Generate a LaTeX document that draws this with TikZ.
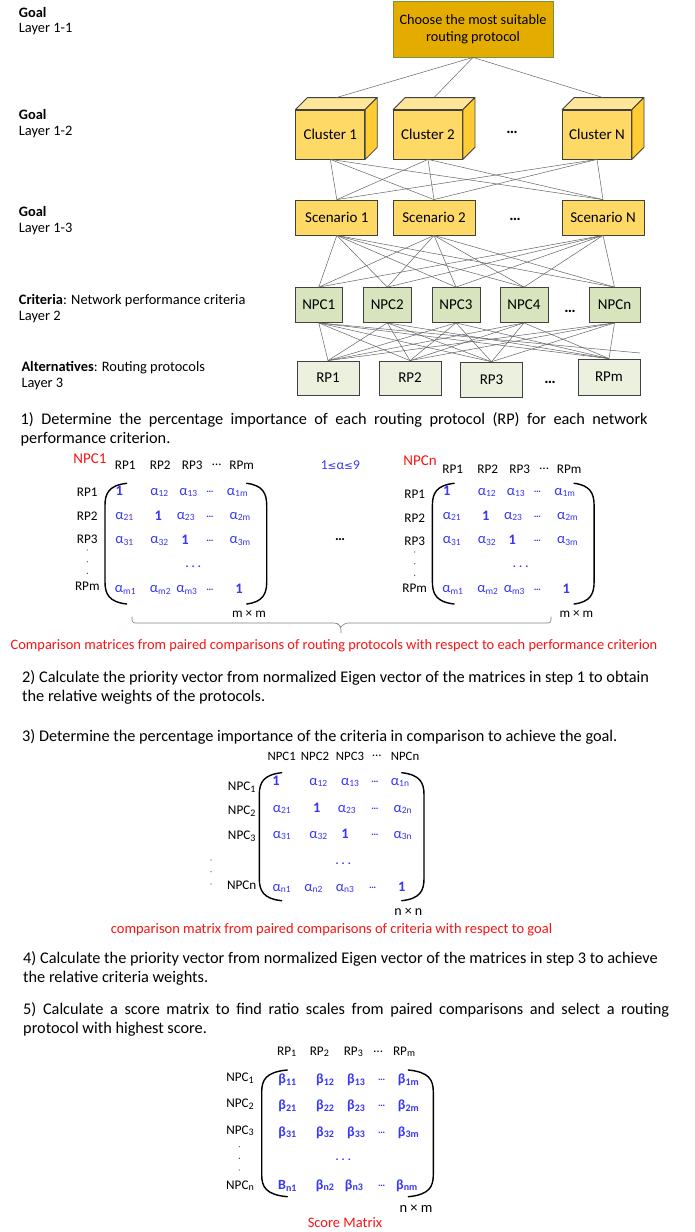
\documentclass[tikz,border=0pt]{standalone}
\usepackage{fontspec}
\setmainfont{Carlito}
\newfontfamily\djv{DejaVu Sans}
\usetikzlibrary{calc}
\definecolor{goalfill}{RGB}{229,172,0}
\definecolor{goalline}{RGB}{119,147,60}
\definecolor{cubefront}{RGB}{255,217,102}
\definecolor{cubetop}{RGB}{255,230,153}
\definecolor{cubeside}{RGB}{255,204,51}
\definecolor{npcfill}{RGB}{215,228,189}
\definecolor{rpfill}{RGB}{235,241,222}
\definecolor{boxline}{RGB}{64,64,64}
\definecolor{entblue}{RGB}{55,55,245}
\definecolor{capred}{RGB}{250,20,20}
\definecolor{linkgray}{RGB}{100,100,100}
\newcommand\myfs[1]{\fontsize{#1}{#1}\selectfont}
\newcommand\alx[1]{α\raisebox{-1.5pt}{\myfs{9.5}#1}}
\newcommand\bex[1]{β\raisebox{-1.5pt}{\myfs{10}#1}}
\newcommand\sbx[1]{\raisebox{-1.5pt}{\myfs{10}#1}}
\newcommand\mylpar[4]{\draw[paren] (#2,#3) .. controls ({#1+4},{#3+2}) and (#1,{#3+10}) .. (#1,{#3+22}) -- (#1,{#4-22}) .. controls (#1,{#4-10}) and ({#1+4},{#4-2}) .. (#2,#4);}
\newcommand\myrpar[4]{\draw[paren] (#1,#3) .. controls ({#2-4},{#3+2}) and (#2,{#3+10}) .. (#2,{#3+22}) -- (#2,{#4-22}) .. controls (#2,{#4-10}) and ({#2-4},{#4-2}) .. (#1,#4);}
\newcommand\mycube[1]{%
  \draw[boxline, fill=cubetop, line width=0.8pt, line join=round] (#1.north west) -- ++(12,-12) -- ($(#1.north east)+(12,-12)$) -- (#1.north east) -- cycle;
  \draw[boxline, fill=cubeside, line width=0.8pt, line join=round] (#1.north east) -- ++(12,-12) -- ($(#1.south east)+(12,-12)$) -- (#1.south east) -- cycle;
  \coordinate (top#1) at ($(#1.north)+(6,-12)$);}
% matrix of step 1 (shifted copies)
\newcommand\matA[3]{%
  \foreach \t/\x [count=\i] in {RP1/125.3, RP2/160.3, RP3/192.3, …/216.7, RPm/241.7}
    \node[mlab] (#1h\i) at (\x,{465+#2}) {\t};
  \foreach \t/\y [count=\i] in {RP1/492.3, RP2/516, RP3/539.3, RPm/586.7}
    \node[mlab] (#1r\i) at (87.3,{\y+#3}) {\t};
  \foreach \y in {550,561.7,573.3} \fill[boxline] (87.3,{\y+#3}) circle (0.65);
  \foreach \x/\y/\c [count=\i] in {119.3/490.5/1, 158.3/515.5/1, 185/539.5/1, 239/588.5/1}
    \node[one] (#1o\i) at (\x,\y) {\c};
  \foreach \x/\y/\c [count=\i] in {159.3/492.3/12, 188.3/492.3/13, 237.3/492.3/1m,
      124.3/516.7/21, 185.7/516.7/23, 240/516.7/2m,
      124.3/541/31, 159.3/541/32, 240/541/3m,
      125.3/590/m1, 160.3/590/m2, 186.7/590/m3}
    \node[ent] (#1a\i) at (\x,\y) {\alx{\c}};
  \foreach \y [count=\i] in {492.3,516.7,541,590}
    \node[edots] (#1e\i) at (210,\y) {…};
  \node[ent] (#1v) at (193.3,566.7) {.\hspace{2.5pt}.\hspace{2.5pt}.};
  \mylpar{105}{126.7}{483.3}{604}
  \myrpar{246.7}{266.7}{483.3}{604}
  \node[mlab] (#1sz) at (249,614) {m × m};
}
\tikzset{
  hbox/.style={draw=boxline, line width=0.8pt, inner sep=0, align=center, font=\myfs{15}},
  goalbox/.style={hbox, fill=goalfill, draw=goalline, minimum width=160pt, minimum height=56pt, font=\fontsize{14.3}{17}\selectfont},
  cubebox/.style={hbox, fill=cubefront, minimum width=69pt, minimum height=49pt},
  scenbox/.style={hbox, fill=cubefront, minimum width=82pt, minimum height=35pt},
  npcbox/.style={hbox, fill=npcfill, minimum height=35pt},
  rpbox/.style={hbox, fill=rpfill, minimum width=62pt, minimum height=34pt},
  hdots/.style={inner sep=0, font=\myfs{16}\bfseries},
  link/.style={draw=linkgray, line width=0.5pt},
  lbl/.style={anchor=west, inner sep=0, font=\myfs{14.4}},
  body/.style={anchor=west, inner sep=0, font=\myfs{16.3}},
  mlab/.style={inner sep=0, font=\myfs{13.2}},
  ent/.style={inner sep=0, text=entblue, font=\myfs{14.5}},
  one/.style={inner sep=0, text=entblue, font=\myfs{14.5}\bfseries},
  bent/.style={inner sep=0, text=entblue, font=\myfs{14}\bfseries},
  edots/.style={inner sep=0, text=entblue, font=\myfs{10}\bfseries},
  paren/.style={line width=1.4pt, line cap=round},
  redcap/.style={inner sep=0, text=capred},
}
\begin{document}
\begin{tikzpicture}[x=1pt,y=-1pt]
\useasboundingbox (0,0) rectangle (695,1232);
\fill[white] (0,0) rectangle (695,1232);
% ---- left layer labels
\node[lbl] (g1a) at (18.7,12.3) {\bfseries Goal};
\node[lbl] (g1b) at (18.7,29.3) {Layer 1-1};
\node[lbl] (g2a) at (18.7,114) {\bfseries Goal};
\node[lbl] (g2b) at (18.7,131.7) {Layer 1-2};
\node[lbl] (g3a) at (18.7,211) {\bfseries Goal};
\node[lbl] (g3b) at (18.7,228.7) {Layer 1-3};
\node[lbl] (cra) at (18.7,300.7) {\textbf{Criteria}: Network performance criteria};
\node[lbl] (crb) at (18.7,316.7) {Layer 2};
\node[lbl] (ala) at (21.3,367.7) {\textbf{Alternatives}: Routing protocols};
\node[lbl] (alb) at (21.3,384) {Layer 3};
% ---- hierarchy
\node[goalbox] (goal) at (473,29) {Choose the most suitable\\routing protocol};
\node[cubebox] (c1) at (330.3,134.5) {Cluster 1};
\node[cubebox] (c2) at (428,134.5) {Cluster 2};
\node[cubebox] (cN) at (597,134.5) {Cluster N};
\mycube{c1}\mycube{c2}\mycube{cN}
\node[hdots] (cd) at (512,132) {…};
\node[scenbox] (s1) at (336.8,217.5) {Scenario 1};
\node[scenbox] (s2) at (434,217.5) {Scenario 2};
\node[scenbox] (sN) at (603,217.5) {Scenario N};
\node[hdots] (sd) at (515,219) {…};
\node[npcbox, minimum width=46.4pt] (n1) at (318.8,305) {NPC1};
\node[npcbox, minimum width=47.4pt] (n2) at (387.3,305) {NPC2};
\node[npcbox, minimum width=48pt] (n3) at (456,305) {NPC3};
\node[npcbox, minimum width=48pt] (n4) at (524,305) {NPC4};
\node[npcbox, minimum width=51pt] (nn) at (614.5,305) {NPCn};
\node[hdots] (nd) at (570,311) {…};
\node[rpbox] (r1) at (328,378) {RP1};
\node[rpbox] (r2) at (410,378) {RP2};
\node[rpbox, minimum height=35.7pt] (r3) at (491.5,380) {RP3};
\node[rpbox, minimum height=36pt] (rm) at (609,377) {RPm};
\node[hdots] (rd) at (550,382) {…};
% ---- connectors
\foreach \c in {c1,c2,cN} \draw[link] (goal.south) -- (top\c);
\foreach \c in {c1,c2,cN} \foreach \s in {s1,s2,sN} \draw[link] (\c.south) -- (\s.north);
\foreach \s in {s1,s2,sN} \foreach \n in {n1,n2,n3,n4,nn} \draw[link] (\s.south) -- (\n.north);
\foreach \n in {n1,n2,n3,n4,nn} \foreach \r in {r1,r2,r3,rm} \draw[link] (\n.south) -- (\r.north);
\coordinate (stray) at (640,353);
\draw[link] (n1.south) -- (stray);
% ---- step 1
\node[body] (t1a) at (20.4,420) {\makebox[627pt][s]{1) Determine the percentage importance of each routing protocol (RP) for each network}};
\node[body] (t1b) at (20.4,439.3) {performance criterion.};
\node[redcap, font=\myfs{15}] (m1name) at (90,458.3) {NPC1};
\matA{ma}{0}{0}
\begin{scope}[xshift=327.4pt]
\matA{mb}{4}{2}
\end{scope}
\node[redcap, font=\myfs{15}] (m2name) at (420,460.7) {NPCn};
\node[ent, font=\myfs{13.5}, anchor=west] (range) at (320.7,465) {1{\djv\myfs{10.5}≤}α{\djv\myfs{10.5}≤}9};
\node[inner sep=0, font=\myfs{14}\bfseries] (mdots) at (340,540) {…};
\draw[draw=gray, line width=0.6pt, rounded corners=3pt] (132,616.7) -- (132,623) -- (337,623) -- (341,627) -- (341,633);
\draw[draw=gray, line width=0.6pt, rounded corners=3pt] (551,616.7) -- (551,623) -- (345,623) -- (341,627);
\node[redcap, font=\myfs{14.4}] (cap1) at (334,646) {Comparison matrices from paired comparisons of routing protocols with respect to each performance criterion};
% ---- step 2, 3
\node[body] (t2a) at (22,678.3) {2) Calculate the priority vector from normalized Eigen vector of the matrices in step 1 to obtain};
\node[body] (t2b) at (22,697.3) {the relative weights of the protocols.};
\node[body] (t3a) at (22,737) {3) Determine the percentage importance of the criteria in comparison to achieve the goal.};
% ---- criteria matrix
\foreach \t/\x [count=\i] in {NPC1/281.7, NPC2/315, NPC3/350, …/376.7, NPCn/405}
  \node[mlab, font=\myfs{12.8}] (kh\i) at (\x,756) {\t};
\foreach \t/\y [count=\i] in {NPC\sbx{1}/787.3, NPC\sbx{2}/811, NPC\sbx{3}/836, NPCn/885}
  \node[mlab] (kr\i) at (241.7,\y) {\t};
\foreach \y in {860,871.7,884} \fill[boxline] (211,\y) circle (0.65);
\foreach \x/\y [count=\i] in {276/780.5, 316.7/807.5, 345/833.5, 401.7/886.5}
  \node[one] (ko\i) at (\x,\y) {1};
\foreach \x/\y/\c [count=\i] in {318.3/782.3/12, 350/782.3/13, 400/782.3/1n,
    281.7/809.3/21, 346.7/809.3/23, 402.7/809.3/2n,
    281.7/835.3/31, 318.3/835.3/32, 402.7/835.3/3n,
    281.7/888.3/n1, 313.3/888.3/n2, 345/888.3/n3}
  \node[ent] (ka\i) at (\x,\y) {\alx{\c}};
\foreach \x/\y [count=\i] in {375/782.3, 375/809.3, 375/835.3, 372.7/888.3}
  \node[edots] (ke\i) at (\x,\y) {…};
\node[ent] (kv) at (343.3,863.3) {.\hspace{2.5pt}.\hspace{2.5pt}.};
\mylpar{259.3}{281.7}{772.7}{900.7}
\myrpar{401.7}{424}{772.7}{900.7}
\node[mlab, font=\myfs{14}] (ksz) at (408.3,911.7) {n × n};
\node[redcap, font=\myfs{14.5}] (cap2) at (331.5,930) {comparison matrix from paired comparisons of criteria with respect to goal};
% ---- step 4, 5
\node[body] (t4a) at (23,959.3) {4) Calculate the priority vector from normalized Eigen vector of the matrices in step 3 to achieve};
\node[body] (t4b) at (23,978.3) {the relative criteria weights.};
\node[body] (t5a) at (23,1010) {\makebox[646pt][s]{5) Calculate a score matrix to find ratio scales from paired comparisons and select a routing}};
\node[body] (t5b) at (23,1029) {protocol with highest score.};
% ---- score matrix
\foreach \t/\x [count=\i] in {RP\sbx{1}/286.7, RP\sbx{2}/319.3, RP\sbx{3}/353.3, …/378.3, RP\sbx{m}/404}
  \node[mlab] (sh\i) at (\x,1051.7) {\t};
\foreach \t/\y [count=\i] in {NPC\sbx{1}/1078.3, NPC\sbx{2}/1104, NPC\sbx{3}/1130.7, NPC\sbx{n}/1185.7}
  \node[mlab] (sr\i) at (240,\y) {\t};
\foreach \y in {1146.7,1158.3,1170} \fill[boxline] (239.3,\y) circle (0.65);
\foreach \x/\y/\c [count=\i] in {287.3/1080/11, 325/1080/12, 356/1080/13, 408.3/1080/1m,
    287.3/1106/21, 325/1106/22, 356/1106/23, 408.3/1106/2m,
    287.3/1132.7/31, 325/1132.7/32, 356/1132.7/33, 408.3/1132.7/3m,
    325/1185.7/n2, 354/1185.7/n3, 406.7/1185.7/nm}
  \node[bent] (sb\i) at (\x,\y) {\bex{\c}};
\node[bent] (sbB) at (287.3,1185.7) {B\raisebox{-1.5pt}{\myfs{10}n1}};
\foreach \y [count=\i] in {1080,1106,1132.7,1185.7}
  \node[edots] (se\i) at (381.7,\y) {…};
\node[ent] (sv) at (343.3,1160) {.\hspace{2.5pt}.\hspace{2.5pt}.};
\mylpar{261.7}{287.3}{1070}{1196.7}
\myrpar{408.3}{433.3}{1070}{1196.7}
\node[mlab, font=\myfs{14.5}] (ssz) at (416,1208.3) {n × m};
\node[redcap, font=\myfs{14.5}] (cap3) at (345,1222.7) {Score Matrix};
\end{tikzpicture}
\end{document}
